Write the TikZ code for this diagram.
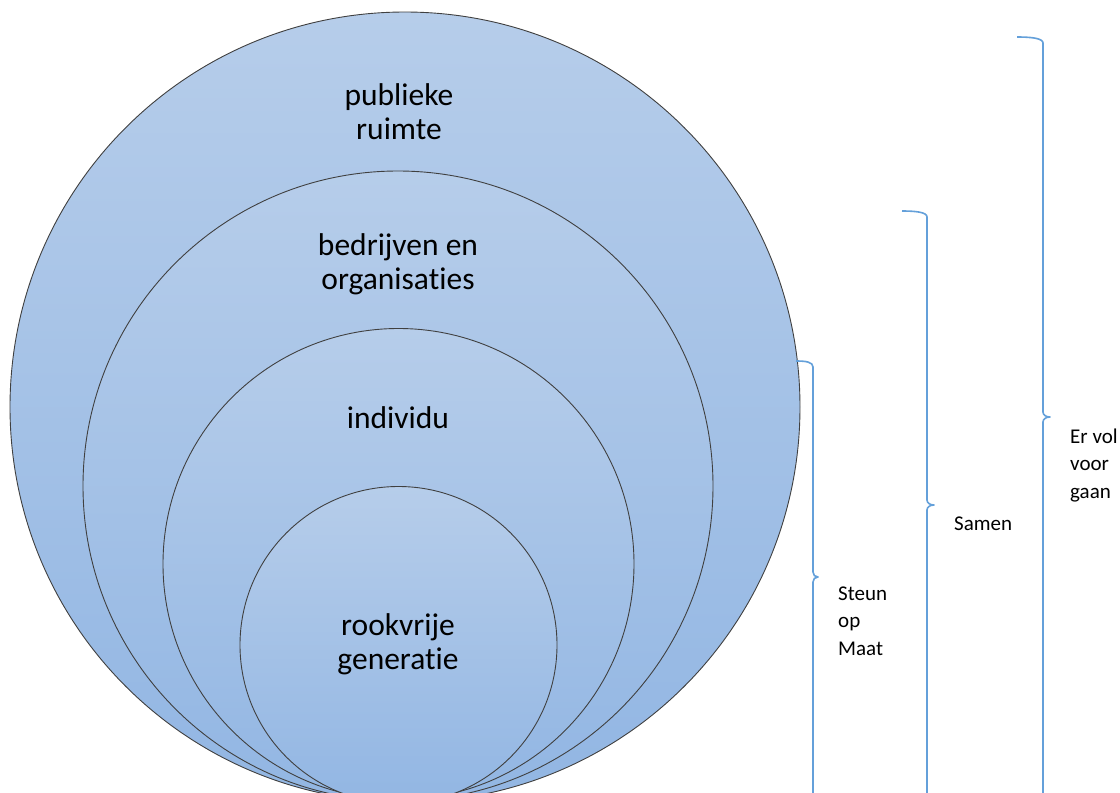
\documentclass[tikz,border=0pt]{standalone}
\usepackage{fontspec}
\setmainfont{Carlito}[Ligatures=NoCommon]
\definecolor{ctop}{RGB}{182,205,234}
\definecolor{cbot}{RGB}{146,182,227}
\definecolor{cline}{RGB}{64,64,64}
\definecolor{cbrace}{RGB}{100,160,218}
\tikzset{
  ring/.style={circle, draw=cline, line width=0.9pt, inner sep=0pt, top color=ctop, bottom color=cbot, minimum size=#1},
  bigtext/.style={align=center, font=\fontsize{31.5}{34}\selectfont, inner sep=0pt},
  smalltext/.style={align=left, font=\fontsize{21}{27.5}\selectfont, inner sep=0pt, anchor=base west},
  bracepath/.style={draw=cbrace, line width=1.6pt, line join=round}
}
\begin{document}
\begin{tikzpicture}[x=1pt,y=-1pt]
\useasboundingbox (0,0) rectangle (1120,793);
\clip (0,0) rectangle (1120,793);
\fill[white] (0,0) rectangle (1120,793);
% circles
\node[ring=790pt] (c1) at (405,407) {};
\node[ring=630pt] (c2) at (398,486) {};
\node[ring=471pt] (c3) at (398.5,564) {};
\node[ring=317pt] (c4) at (398.5,645) {};
% labels
\node[bigtext] (t1) at (399,112) {publieke\\ruimte};
\node[bigtext] (t2) at (398,264) {bedrijven en\\organisaties};
\node[bigtext] (t3) at (398,418) {individu};
\node[bigtext] (t4) at (398,644) {rookvrije\\generatie};
% braces
\draw[bracepath] (796,361) .. controls (806,361) and (813,362) .. (813,367)
  -- (813,572) .. controls (813,575) and (815,577) .. (818,577)
  .. controls (815,577) and (813,579) .. (813,582) -- (813,800);
\draw[bracepath] (902,211) .. controls (915,211) and (927,212) .. (927,217)
  -- (927,500) .. controls (927,503) and (930,505) .. (934,505)
  .. controls (930,505) and (927,507) .. (927,510) -- (927,800);
\draw[bracepath] (1017,37) .. controls (1030,37) and (1043,38) .. (1043,43)
  -- (1043,412) .. controls (1043,415) and (1046,417) .. (1050,417)
  .. controls (1046,417) and (1043,419) .. (1043,422) -- (1043,800);
% brace labels
\node[smalltext] (s1) at (838,655) {Steun\\op\\Maat};
\node[smalltext] (s2) at (954,530) {Samen};
\node[smalltext] (s3) at (1070,498) {Er vol\\voor\\gaan};
\end{tikzpicture}
\end{document}
